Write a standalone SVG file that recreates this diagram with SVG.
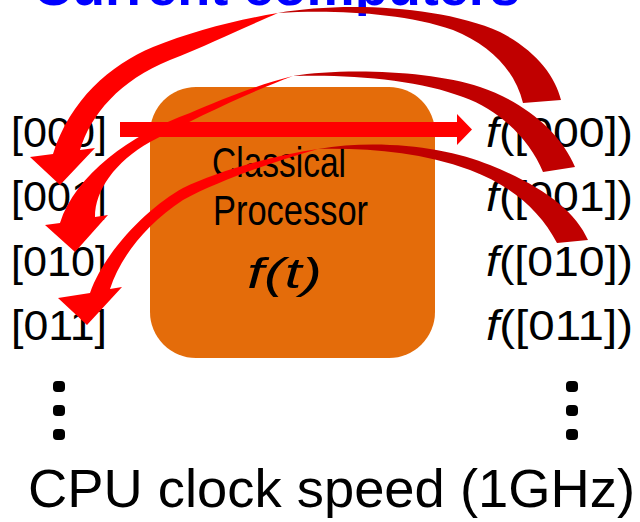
<svg xmlns="http://www.w3.org/2000/svg" width="640" height="522" viewBox="0 0 640 522">
<style>
.lbl{font-family:"Liberation Sans",Arial,sans-serif;font-size:42px;fill:#000}
.it{font-style:italic}
.box{fill:#E46C0A}
.front{fill:#FF0000}
.back{fill:#C00000}
.dot{fill:#000}
</style>
<rect width="640" height="522" fill="#fff"/>
<text x="33" y="5" font-family="'Liberation Sans',Arial,sans-serif" font-weight="bold" font-size="54" fill="#0000FF" textLength="487" lengthAdjust="spacingAndGlyphs">Current computers</text>

<g id="processor">
<rect class="box" x="150" y="87" width="285" height="271" rx="46" ry="46"/>
<text class="lbl" x="212" y="177" font-size="38" textLength="134" lengthAdjust="spacingAndGlyphs">Classical</text>
<text class="lbl" x="213" y="225" font-size="38" textLength="155" lengthAdjust="spacingAndGlyphs">Processor</text>
<text class="lbl it" x="247" y="288" font-size="54" textLength="75" lengthAdjust="spacingAndGlyphs">f(t)</text>
</g>

<g id="inputs">
<text class="lbl" x="11" y="147" textLength="96" lengthAdjust="spacingAndGlyphs">[000]</text>
<text class="lbl" x="11" y="211" textLength="96" lengthAdjust="spacingAndGlyphs">[001]</text>
<text class="lbl" x="11" y="276" textLength="96" lengthAdjust="spacingAndGlyphs">[010]</text>
<text class="lbl" x="11" y="340" textLength="96" lengthAdjust="spacingAndGlyphs">[011]</text>
</g>

<g id="outputs">
<text class="lbl" x="486" y="147" textLength="147" lengthAdjust="spacingAndGlyphs"><tspan class="it">f</tspan>([000])</text>
<text class="lbl" x="486" y="211" textLength="147" lengthAdjust="spacingAndGlyphs"><tspan class="it">f</tspan>([001])</text>
<text class="lbl" x="486" y="276" textLength="147" lengthAdjust="spacingAndGlyphs"><tspan class="it">f</tspan>([010])</text>
<text class="lbl" x="486" y="340" textLength="147" lengthAdjust="spacingAndGlyphs"><tspan class="it">f</tspan>([011])</text>
</g>

<g id="connectors">
<path class="front" d="M120,122 L457,122 L457,114 L472,129.5 L457,145 L457,137 L120,137 Z"/>
<path class="back" d="M278,13 C340,2 440,5 500,32 C535,50 555,75 561,100 L523,103 C515,70 490,45 453,30 C400,12 330,10 278,13 Z"/>
<path class="front" d="M278,13 C235,20 190,32 153,47 C110,65 70,100 53,154 L30,157 L60,185 L95,148 L80,150 C90,115 120,80 170,60 C210,44 250,25 278,13 Z"/>
<path class="back" d="M293,76 C340,68 430,70 480,87 C520,100 560,130 575,167 L543,172 C530,140 500,110 463,97 C420,80 350,74 293,76 Z"/>
<path class="front" d="M293,76 C260,84 220,100 190,113 C130,135 75,175 60,223 L45,225 L75,252 L108,215 L95,217 C95,190 115,162 150,142 C195,118 250,92 293,76 Z"/>
<path class="back" d="M318,149 C380,138 450,148 490,165 C540,185 575,210 588,240 L557,243 C540,210 510,185 470,170 C420,152 370,148 318,149 Z"/>
<path class="front" d="M318,149 C270,156 215,172 183,188 C150,206 105,250 90,293 L58,298 L87,325 L122,287 L110,289 C120,258 145,225 183,200 C220,180 270,163 318,149 Z"/>
</g>

<g id="ellipsis-left">
<rect class="dot" x="53" y="381" width="12" height="11" rx="4"/>
<rect class="dot" x="53" y="405" width="12" height="11" rx="4"/>
<rect class="dot" x="53" y="429" width="12" height="11" rx="4"/>
</g>
<g id="ellipsis-right">
<rect class="dot" x="566" y="381" width="12" height="11" rx="4"/>
<rect class="dot" x="566" y="405" width="12" height="11" rx="4"/>
<rect class="dot" x="566" y="429" width="12" height="11" rx="4"/>
</g>

<text x="28" y="507" font-family="'Liberation Sans',Arial,sans-serif" font-size="54" fill="#000" textLength="607" lengthAdjust="spacingAndGlyphs">CPU clock speed (1GHz)</text>
</svg>
